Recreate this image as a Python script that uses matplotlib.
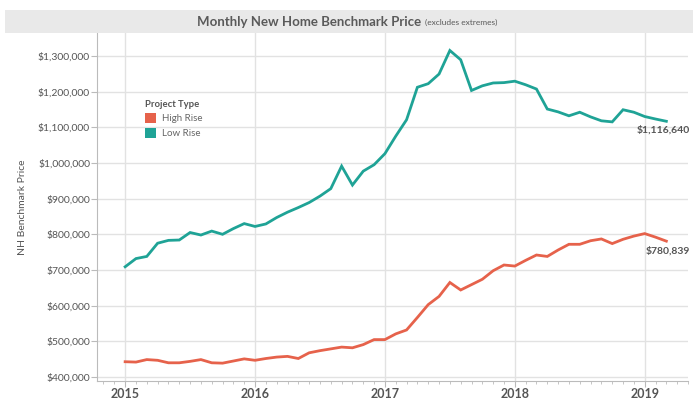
import matplotlib
matplotlib.use("Agg")
import matplotlib.pyplot as plt
import numpy as np
from matplotlib.patches import Patch, Rectangle
from matplotlib.ticker import FuncFormatter, MultipleLocator

plt.rcParams["font.family"] = ["Lato", "DejaVu Sans"]

# monthly values, Jan 2015 .. Mar 2019
years = [2015, 2016, 2017, 2018, 2019]
high_rise = [
    443000, 442000, 449000, 447000, 440000, 440000, 444000, 449000, 440000, 439000, 445000, 451000,
    447000, 452000, 456000, 458000, 452000, 468000, 474000, 479000, 484000, 482000, 491000, 505000,
    505000, 521000, 532000, 567000, 603000, 626000, 665000, 644000, 659000, 674000, 698000, 714000,
    711000, 727000, 742000, 738000, 756000, 772000, 772000, 782000, 787000, 774000, 786000, 795000,
    802000, 792000, 780839,
]
low_rise = [
    709000, 732000, 738000, 775000, 783000, 784000, 805000, 798000, 809000, 800000, 816000, 830000,
    822000, 829000, 847000, 862000, 875000, 889000, 907000, 928000, 991000, 938000, 977000, 995000,
    1026000, 1075000, 1121000, 1212000, 1222000, 1249000, 1315000, 1289000, 1203000, 1216000, 1224000, 1225000,
    1229000, 1219000, 1207000, 1151000, 1143000, 1132000, 1142000, 1129000, 1118000, 1115000, 1149000, 1142000,
    1130000, 1123000, 1116640,
]

teal = "#1fa396"
red = "#e6624b"
grey_txt = "#555555"

months = np.arange(len(low_rise))

fig = plt.figure(figsize=(6.93, 4.01), dpi=100)
ax = fig.add_axes([97 / 693, 20 / 401, 591 / 693, 348 / 401])

# title band
fig.patches.append(Rectangle((5 / 693, 368 / 401), 688 / 693, 23 / 401, transform=fig.transFigure,
                             facecolor="#e9e9e9", edgecolor="none", zorder=0))
fig.text(421 / 693, 379.5 / 401, "Monthly New Home Benchmark Price", ha="right", va="center",
         fontsize=9.5, fontweight="bold", color="#5a5a5a")
fig.text(425 / 693, 378.5 / 401, "(excludes extremes)", ha="left", va="center",
         fontsize=6, color="#5a5a5a")

ax.plot(months, low_rise, color=teal, lw=2.0, solid_joinstyle="miter", zorder=3)
ax.plot(months, high_rise, color=red, lw=2.0, solid_joinstyle="miter", zorder=3)

ax.annotate(f"${low_rise[-1]:,.0f}", (months[-1], low_rise[-1]), xytext=(-2, -3), textcoords="offset points",
            ha="center", va="top", fontsize=7.5, fontweight="bold", color=grey_txt)
ax.annotate(f"${high_rise[-1]:,.0f}", (months[-1], high_rise[-1]), xytext=(1, -4), textcoords="offset points",
            ha="center", va="top", fontsize=7.5, fontweight="bold", color=grey_txt)

ax.set_xlim(-2.6, 52.0)
ax.set_ylim(389000, 1364000)
ax.set_xticks([12 * i for i in range(len(years))])
ax.set_xticklabels([str(y) for y in years])
ax.xaxis.set_minor_locator(MultipleLocator(1))
ax.yaxis.set_major_locator(MultipleLocator(100000))
ax.yaxis.set_major_formatter(FuncFormatter(lambda v, p: f"${v:,.0f}"))

ax.grid(True, which="major", color="#e2e2e2", lw=1.0, zorder=0)
for s in ["top", "right"]:
    ax.spines[s].set_visible(False)
for s in ["left", "bottom"]:
    ax.spines[s].set_color("#bbbbbb")
    ax.spines[s].set_linewidth(0.8)

ax.tick_params(axis="y", labelsize=7.5, labelcolor=grey_txt, color="#bbbbbb", length=4, width=0.8, pad=1)
ax.tick_params(axis="x", which="major", labelsize=9, labelcolor=grey_txt, color="#bbbbbb", length=4, width=0.8, pad=1)
ax.tick_params(axis="x", which="minor", color="#bbbbbb", length=2.5, width=0.6)
for lbl in ax.get_xticklabels():
    lbl.set_fontweight("bold")

ax.set_ylabel("NH Benchmark Price", fontsize=7.5, color=grey_txt, labelpad=8)

handles = [Patch(facecolor=red, label="High Rise"), Patch(facecolor=teal, label="Low Rise")]
leg = ax.legend(handles=handles, title="Project Type", loc="upper left", bbox_to_anchor=(0.075, 0.82),
                frameon=False, fontsize=7, title_fontsize=6.8, handlelength=1.1, handleheight=1.1,
                handletextpad=0.6, labelspacing=0.5, borderaxespad=0)
leg.get_title().set_fontweight("bold")
leg.get_title().set_color(grey_txt)
leg._legend_box.align = "left"
for t in leg.get_texts():
    t.set_color("#666666")

fig.savefig("out.png", dpi=100)
